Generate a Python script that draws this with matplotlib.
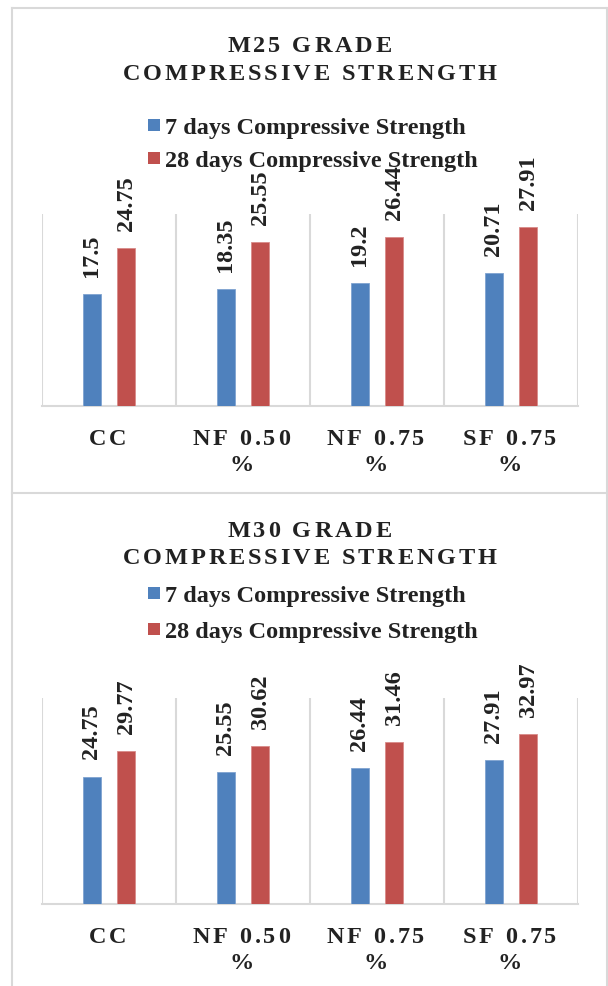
import matplotlib
matplotlib.use("Agg")
import matplotlib.pyplot as plt
from matplotlib import font_manager, ft2font
from matplotlib.font_manager import FontProperties
from matplotlib.lines import Line2D
from matplotlib.patches import Rectangle

# ---------------- data ----------------
categories = ["CC", "NF 0.50\n%", "NF 0.75\n%", "SF 0.75\n%"]
series_names = ["7 days Compressive Strength", "28 days Compressive Strength"]
m25_7days = [17.5, 18.35, 19.2, 20.71]
m25_28days = [24.75, 25.55, 26.44, 27.91]
m30_7days = [24.75, 25.55, 26.44, 27.91]
m30_28days = [29.77, 30.62, 31.46, 32.97]
titles = ["M25 GRADE\nCOMPRESSIVE STRENGTH", "M30 GRADE\nCOMPRESSIVE STRENGTH"]
y_max = [30, 40]

# ---------------- style ----------------
W, H, DPI = 608, 987, 100
BLUE, RED = "#4F81BD", "#C0504D"
GRID = "#d9d9d9"
TXT = "#222222"
FS = 17.5
FAMILY = "Liberation Serif"

fig = plt.figure(figsize=(W / DPI, H / DPI), dpi=DPI)
fig.patch.set_facecolor("white")

fp_bold = FontProperties(family=FAMILY, weight="bold")
font_path = font_manager.findfont(fp_bold)
ftfont = ft2font.FT2Font(font_path)


def advances(s, size):
    ftfont.set_size(size, DPI)
    out = []
    for c in s:
        g = ftfont.load_char(ord(c), flags=ft2font.LoadFlags.NO_HINTING)
        out.append(g.linearHoriAdvance / 65536)
    return out


def fx(px):
    return px / W


def fy(py_top):
    return 1 - py_top / H


def spaced(cx_px, base_top_px, s, size, track, color=TXT):
    adv = advances(s, size)
    total = sum(adv) + track * (len(s) - 1)
    x = cx_px - total / 2
    for c, a in zip(s, adv):
        if c != " ":
            fig.text(fx(x), fy(base_top_px), c, fontsize=size, family=FAMILY,
                     weight="bold", color=color, ha="left", va="baseline")
        x += a + track


def hline(y, x0, x1):
    fig.add_artist(Line2D([fx(x0), fx(x1)], [fy(y), fy(y)], color=GRID, lw=1.5,
                          transform=fig.transFigure))


def vline(x, y0, y1):
    fig.add_artist(Line2D([fx(x), fx(x)], [fy(y0), fy(y1)], color=GRID, lw=1.5,
                          transform=fig.transFigure))


# outer borders
hline(9, 12, 607)
hline(494, 12, 607)
vline(12, 9, 987)
vline(606.5, 9, 987)

panels = [
    dict(v7=m25_7days, v28=m25_28days, title=titles[0], ymax=y_max[0],
         ax_top=215, ax_bot=407, t1=52, t2=80, l1=134, l2=167),
    dict(v7=m30_7days, v28=m30_28days, title=titles[1], ymax=y_max[1],
         ax_top=699, ax_bot=905, t1=537, t2=564, l1=602, l2=638),
]

x_left, x_right = 42, 578
bar_w = 0.135
off = 0.13

for p in panels:
    ax = fig.add_axes([fx(x_left), fy(p["ax_bot"]), (x_right - x_left) / W,
                       (p["ax_bot"] - p["ax_top"]) / H])
    n = len(categories)
    xs = list(range(n))
    b1 = ax.bar([x - off for x in xs], p["v7"], width=bar_w, color=BLUE,
                edgecolor="#7fa3d0", linewidth=0.6, zorder=3)
    b2 = ax.bar([x + off for x in xs], p["v28"], width=bar_w, color=RED,
                edgecolor="#d98b89", linewidth=0.6, zorder=3)
    ax.set_xlim(-0.5, n - 0.5)
    ax.set_ylim(0, p["ymax"])
    for s in ["top", "right", "left"]:
        ax.spines[s].set_visible(False)
    ax.spines["bottom"].set_color(GRID)
    ax.spines["bottom"].set_linewidth(1.5)
    ax.set_yticks([])
    ax.set_xticks([i - 0.5 for i in range(n + 1)])
    ax.tick_params(axis="x", length=0, labelbottom=False)
    ax.grid(axis="x", color=GRID, linewidth=1.5, zorder=0)
    ax.patch.set_alpha(0)

    for bars, vals in ((b1, p["v7"]), (b2, p["v28"])):
        for rect, v in zip(bars, vals):
            ax.annotate(f"{v:g}", (rect.get_x() + rect.get_width() / 2, v),
                        xytext=(0, 13), textcoords="offset points",
                        rotation=90, ha="center", va="bottom", fontsize=FS,
                        family=FAMILY, weight="bold", color=TXT)

    # category labels (letter-spaced)
    for i, lab in enumerate(categories):
        cx = ax.transData.transform((i, 0))[0] - 1.5
        lines = lab.split("\n")
        for j, ln in enumerate(lines):
            spaced(cx, p["ax_bot"] + 38 + 26 * j, ln, FS, 2.8)

    # title
    t_lines = p["title"].split("\n")
    spaced(309.5, p["t1"], t_lines[0], FS, 2.9)
    spaced(309.5, p["t2"], t_lines[1], FS, 2.9)

    # legend
    for (name, col, base) in ((series_names[0], BLUE, p["l1"]),
                              (series_names[1], RED, p["l2"])):
        fig.add_artist(Rectangle((fx(148), fy(base - 2)), 12 / W, 12 / H,
                                 transform=fig.transFigure, facecolor=col,
                                 edgecolor="none"))
        fig.text(fx(165), fy(base), name, fontsize=FS, family=FAMILY,
                 weight="bold", color=TXT, ha="left", va="baseline")

fig.savefig("out.png", dpi=DPI, facecolor="white")
